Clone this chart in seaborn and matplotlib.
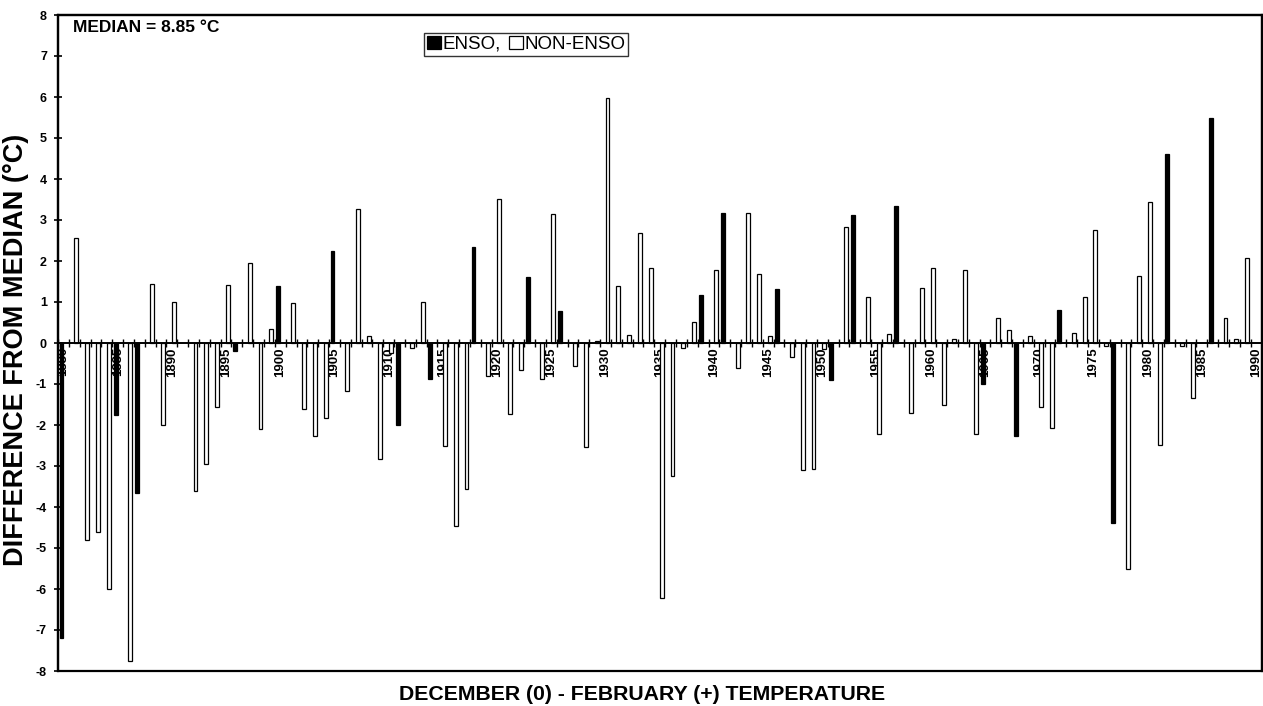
import numpy as np
import pandas as pd
import matplotlib
matplotlib.use("Agg")
import matplotlib.pyplot as plt
import matplotlib.patches as mpatches
import seaborn as sns

# ---- data ----
years = list(range(1880, 1991))  # category axis (one slot per winter)

enso_years = [1880, 1885, 1887, 1896, 1900, 1905, 1911, 1914, 1918, 1923, 1926,
              1939, 1941, 1946, 1951, 1953, 1957, 1965, 1968, 1972, 1977, 1982, 1986]
enso_values = [-7.2, -1.75, -3.65, -0.2, 1.38, 2.25, -2.0, -0.88, 2.35, 1.6, 0.78,
               1.18, 3.17, 1.32, -0.9, 3.12, 3.35, -1.0, -2.28, 0.8, -4.4, 4.6, 5.5]

non_enso_years = [1881, 1882, 1883, 1884, 1886, 1888, 1889, 1890, 1892, 1893, 1894,
                  1895, 1897, 1898, 1899, 1901, 1902, 1903, 1904, 1906, 1907, 1908,
                  1909, 1910, 1912, 1913, 1915, 1916, 1917, 1919, 1920, 1921, 1922,
                  1924, 1925, 1927, 1928, 1929, 1930, 1931, 1932, 1933, 1934, 1935,
                  1936, 1937, 1938, 1940, 1942, 1943, 1944, 1945, 1947, 1948, 1949,
                  1950, 1952, 1954, 1955, 1956, 1958, 1959, 1960, 1961, 1962, 1963,
                  1964, 1966, 1967, 1969, 1970, 1971, 1973, 1974, 1975, 1976, 1978,
                  1979, 1980, 1981, 1983, 1984, 1987, 1988, 1989]
non_enso_values = [2.55, -4.8, -4.6, -6.0, -7.75, 1.45, -2.0, 1.0, -3.6, -2.95, -1.55,
                   1.42, 1.95, -2.1, 0.33, 0.97, -1.62, -2.27, -1.83, -1.18, 3.27, 0.17,
                   -2.83, -0.25, -0.12, 1.0, -2.5, -4.47, -3.55, -0.8, 3.52, -1.73, -0.65,
                   -0.88, 3.15, -0.55, -2.53, 0.05, 5.97, 1.38, 0.2, 2.68, 1.82, -6.22,
                   -3.25, -0.12, 0.52, 1.77, -0.6, 3.17, 1.68, 0.18, -0.35, -3.1, -3.08,
                   -0.15, 2.82, 1.12, -2.22, 0.22, -1.7, 1.35, 1.82, -1.5, 0.1, 1.77,
                   -2.23, 0.62, 0.32, 0.18, -1.57, -2.08, 0.25, 1.12, 2.75, -0.08, -5.52,
                   1.63, 3.43, -2.48, -0.07, -1.35, 0.6, 0.1, 2.07]

series_names = ["ENSO,", "NON-ENSO"]
y_ticks = list(range(-8, 9))
x_label_years = years[::5]

# ---- build long table ----
df = pd.DataFrame({
    "year": [str(y) for y in enso_years] + [str(y) for y in non_enso_years],
    "value": enso_values + non_enso_values,
    "type": [series_names[0]] * len(enso_years) + [series_names[1]] * len(non_enso_years),
})

sns.set_theme(style="white")
plt.rcParams["font.family"] = ["Liberation Sans", "DejaVu Sans"]
for k in ["text.color", "axes.labelcolor", "xtick.color", "ytick.color", "axes.edgecolor"]:
    plt.rcParams[k] = "black"

fig = plt.figure(figsize=(12.63, 7.06), dpi=100)
ax = fig.add_axes([58 / 1263, 1 - 671 / 706, (1261.5 - 58) / 1263, (671 - 15) / 706])

sns.barplot(data=df, x="year", y="value", hue="type",
            order=[str(y) for y in years], hue_order=series_names,
            palette={series_names[0]: "black", series_names[1]: "white"},
            edgecolor="black", linewidth=0.9, width=0.72, dodge=True,
            errorbar=None, ax=ax, legend=True)

ax.set_xlim(-0.5, len(years) - 0.5)
ax.set_ylim(-8, 8)

# spines: frame + x-axis at zero
for s in ["top", "left", "right"]:
    ax.spines[s].set_color("black")
    ax.spines[s].set_linewidth(1.6)
    ax.spines[s].set_visible(True)
ax.spines["bottom"].set_position(("data", 0))
ax.spines["bottom"].set_color("black")
ax.spines["bottom"].set_linewidth(1.4)
ax.add_patch(mpatches.Rectangle((0, 0), 1, 1, transform=ax.transAxes, fill=False,
                                edgecolor="black", linewidth=1.6, clip_on=False, zorder=5))

# y ticks
ax.set_yticks(y_ticks)
ax.set_yticklabels([str(v) for v in y_ticks], fontsize=9, fontweight="bold")
ax.tick_params(axis="y", which="major", direction="inout", length=6, width=1.2,
               left=True, color="black", pad=5)

# x ticks: labels every 5 years, tick marks between categories
pos = [years.index(y) for y in x_label_years]
ax.set_xticks(pos)
ax.set_xticklabels([str(y) for y in x_label_years], rotation=90, fontsize=9.5,
                   fontweight="bold")
ax.set_xticks(np.arange(-0.5, len(years), 1.0), minor=True)
ax.tick_params(axis="x", which="major", length=0, pad=3, bottom=True)
ax.tick_params(axis="x", which="minor", direction="inout", length=6, width=1.0,
               bottom=True, color="black")

ax.set_xlabel("DECEMBER (0) - FEBRUARY (+) TEMPERATURE", fontsize=15.3,
              fontweight="bold")
ax.xaxis.set_label_coords(0.485, -0.021)
ax.set_ylabel("DIFFERENCE FROM MEDIAN (°C)", fontsize=19.5, fontweight="bold")
ax.yaxis.set_label_coords(-0.0245, 0.49)

ax.text(0.0125, 0.992, "MEDIAN = 8.85 °C", transform=ax.transAxes, fontsize=12.5,
        fontweight="bold", va="top", ha="left")

handles, labels = ax.get_legend_handles_labels()
leg = ax.legend(handles, labels, ncol=2, loc="upper center",
                bbox_to_anchor=(0.389, 0.973), frameon=True, fancybox=False,
                edgecolor="black", fontsize=13.5, handlelength=0.75, handleheight=0.75,
                handletextpad=0.1, columnspacing=0.4, borderpad=0.15,
                borderaxespad=0.0)
leg.get_frame().set_linewidth(1.0)

ax.grid(False)
fig.savefig("out.png", dpi=100, facecolor="white")
